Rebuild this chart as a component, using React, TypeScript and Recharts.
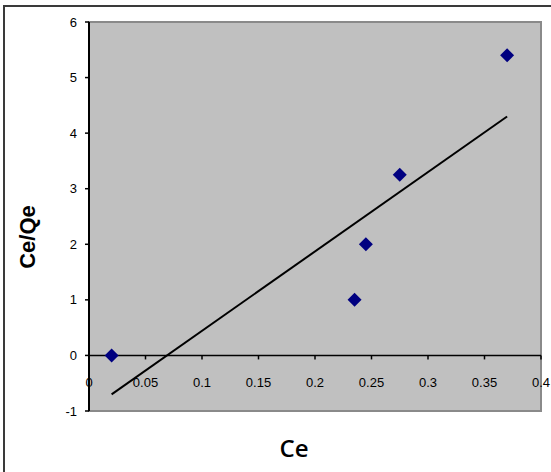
import React from 'react';
import {
  ScatterChart,
  Scatter,
  XAxis,
  YAxis,
  ReferenceArea,
  ReferenceLine,
  Label,
} from 'recharts';

// measured points (Ce, Ce/Qe)
const ce = [0.02, 0.235, 0.245, 0.275, 0.37];
const ceQe = [0, 1.0, 2.0, 3.25, 5.4];

// linear trend line ends
const trendCe = [0.02, 0.37];
const trendCeQe = [-0.7, 4.3];

const xTicks = [0, 0.05, 0.1, 0.15, 0.2, 0.25, 0.3, 0.35, 0.4];
const xTickLabels = ['0', '0.05', '0.1', '0.15', '0.2', '0.25', '0.3', '0.35', '0.4'];
const yTicks = [-1, 0, 1, 2, 3, 4, 5, 6];

const points = ce.map((x, i) => ({ x, y: ceQe[i] }));
const trend = trendCe.map((x, i) => ({ x, y: trendCeQe[i] }));

const W = 551;
const H = 472;
const margin = { top: 22, right: 10, bottom: 31, left: 39 };
const yAxisW = 50;
const xAxisH = 30;
const plotH = H - margin.top - margin.bottom - xAxisH;
const Y_MIN = -1;
const Y_MAX = 6;
const zeroY = margin.top + (plotH * (Y_MAX - 0)) / (Y_MAX - Y_MIN);

const font = '"Liberation Sans", Arial, sans-serif';

const Diamond = (props: any) => {
  const { cx, cy } = props;
  const r = 7;
  return (
    <polygon
      points={`${cx},${cy - r} ${cx + r},${cy} ${cx},${cy + r} ${cx - r},${cy}`}
      fill="#000080"
    />
  );
};

const XTick = (props: any) => {
  const { x, payload, index } = props;
  return (
    <g>
      <line x1={x} x2={x} y1={zeroY} y2={zeroY + 4} stroke="#000" strokeWidth={1.5} />
      <text
        x={x}
        y={zeroY + 27}
        textAnchor="middle"
        dominantBaseline="central"
        fontSize={13}
        fontFamily={font}
        fill="#000"
      >
        {xTickLabels[index] ?? payload.value}
      </text>
    </g>
  );
};

export default function App() {
  return (
    <div style={{ position: 'absolute', left: 0, top: 0, width: W, height: H, overflow: 'hidden', background: '#fff' }}>
      <div
        style={{
          position: 'absolute',
          left: 3,
          top: 5,
          width: 600,
          height: 600,
          border: '2px solid #3a3a3a',
        }}
      />
      <div style={{ position: 'absolute', left: 0, top: 0 }}>
        <ScatterChart width={W} height={H} margin={margin}>
          <ReferenceArea
            x1={0}
            x2={0.4}
            y1={-1}
            y2={6}
            fill="#c0c0c0"
            fillOpacity={1}
            stroke="#8a8a8a"
            strokeWidth={2}
          />
          <XAxis
            type="number"
            dataKey="x"
            domain={[0, 0.4]}
            ticks={xTicks}
            height={xAxisH}
            axisLine={false}
            tickLine={false}
            tick={<XTick />}
            interval={0}
          >
            <Label
              content={() => (
                <text
                  x={294}
                  y={447}
                  textAnchor="middle"
                  dominantBaseline="central"
                  fontSize={24}
                  fontWeight={600}
                  fontFamily='"Open Sans", "Liberation Sans", sans-serif'
                  fill="#000"
                >
                  Ce
                </text>
              )}
            />
          </XAxis>
          <YAxis
            type="number"
            dataKey="y"
            domain={[Y_MIN, Y_MAX]}
            ticks={yTicks}
            width={yAxisW}
            interval={0}
            axisLine={{ stroke: '#000', strokeWidth: 2 }}
            tickLine={{ stroke: '#000', strokeWidth: 1.5 }}
            tickSize={4}
            tickMargin={8}
            tick={{ fontSize: 13, fontFamily: font, fill: '#000' }}
          >
            <Label
              content={() => (
                <text
                  x={27}
                  y={237}
                  transform="rotate(-90 27 237)"
                  textAnchor="middle"
                  dominantBaseline="central"
                  fontSize={22}
                  fontWeight="bold"
                  fontFamily={font}
                  fill="#000"
                >
                  Ce/Qe
                </text>
              )}
            />
          </YAxis>
          <ReferenceLine y={0} stroke="#000" strokeWidth={1.5} />
          <Scatter
            data={trend}
            line={{ stroke: '#000', strokeWidth: 2 }}
            shape={() => <g />}
            isAnimationActive={false}
          />
          <Scatter data={points} shape={<Diamond />} isAnimationActive={false} />
        </ScatterChart>
      </div>
    </div>
  );
}
